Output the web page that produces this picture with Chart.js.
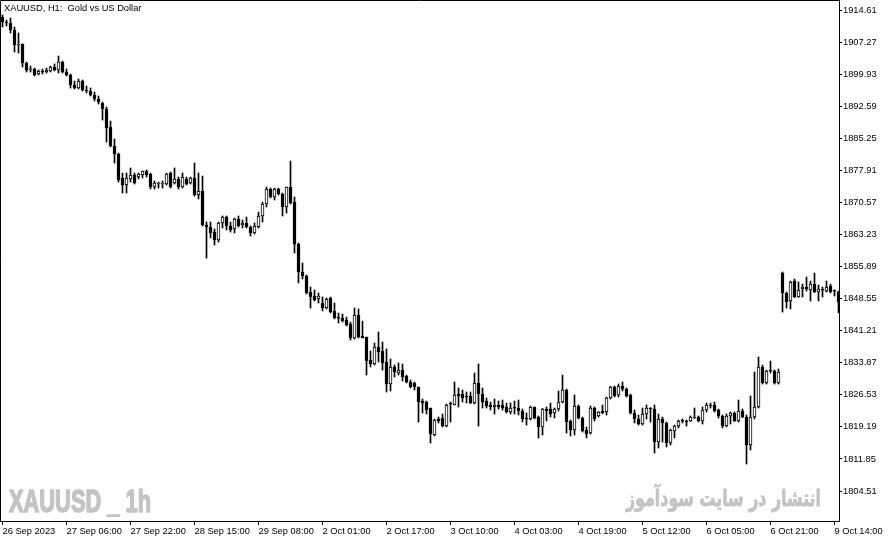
<!DOCTYPE html>
<html>
<head>
<meta charset="utf-8">
<script src="https://cdn.jsdelivr.net/npm/chart.js@4.4.1/dist/chart.umd.min.js"></script>
<style>
  html, body { margin: 0; padding: 0; background: #fff; }
  canvas { display: block; }
</style>
</head>
<body>
<canvas id="chart" width="892" height="543"></canvas>
<script>
// XAUUSD H1, 26 Sep 14:00 -> 9 Oct 14:00 (one value per hourly bar)
const opens = [
  1913.01,1911.86,1911.64,1910.03,1906.60,1906.83,1902.48,1900.88,1901.11,1899.96,
  1900.65,1900.42,1900.65,1901.56,1900.88,1902.71,1900.42,1899.73,1897.44,1896.76,
  1898.36,1896.30,1896.07,1895.16,1894.24,1893.32,1891.95,1887.83,1883.48,1881.65,
  1876.16,1874.55,1875.93,1876.84,1876.38,1876.84,1877.76,1877.07,1874.09,1874.78,
  1874.78,1874.78,1877.30,1875.01,1875.93,1874.09,1875.93,1875.01,1876.16,1872.26,
  1873.18,1865.40,1864.94,1863.80,1861.96,1865.85,1867.23,1865.17,1864.48,1866.77,
  1865.40,1865.85,1864.94,1863.57,1864.94,1867.46,1870.20,1873.64,1871.81,1873.64,
  1872.49,1869.52,1874.09,1870.66,1861.04,1854.64,1853.72,1850.06,1849.15,1848.46,
  1847.54,1846.40,1848.69,1845.71,1844.11,1844.11,1843.65,1842.74,1839.53,1844.80,
  1839.99,1839.76,1834.50,1833.58,1837.47,1836.56,1834.04,1829.00,1832.89,1831.52,
  1832.21,1830.83,1829.46,1829.23,1828.32,1825.11,1824.88,1823.51,1817.34,1821.00,
  1821.22,1819.39,1824.43,1824.20,1826.71,1826.71,1826.26,1826.26,1824.66,1829.23,
  1826.71,1825.11,1824.20,1823.74,1824.20,1824.20,1823.74,1822.60,1823.51,1823.51,
  1822.83,1821.00,1821.00,1823.74,1821.45,1819.17,1823.28,1823.28,1822.37,1823.28,
  1824.88,1827.63,1820.54,1818.48,1823.97,1821.22,1818.48,1817.79,1823.51,1821.68,
  1822.83,1822.60,1825.80,1828.32,1826.49,1828.54,1827.86,1826.49,1822.37,1821.00,
  1819.85,1822.14,1823.51,1823.28,1815.73,1821.00,1820.08,1815.50,1818.25,1819.39,
  1820.54,1820.54,1820.54,1821.22,1821.45,1820.54,1823.05,1824.20,1824.20,1823.05,
  1821.68,1819.39,1821.68,1822.37,1820.54,1822.83,1821.45,1815.05,1821.45,1823.74,
  1832.89,1829.23,1831.98,1831.98,1829.23,1854.41,1849.83,1848.00,1852.58,1848.92,
  1850.75,1851.21,1850.52,1851.89,1850.06,1850.52,1850.29,1851.44,1850.29,1850.06
];
const highs = [
  1913.47,1912.32,1912.78,1910.72,1909.35,1906.83,1902.71,1901.79,1901.33,1900.88,
  1901.11,1901.33,1901.79,1902.25,1904.08,1902.94,1901.11,1899.96,1898.36,1898.82,
  1898.59,1897.21,1896.76,1895.84,1894.93,1893.55,1892.41,1889.20,1885.08,1881.88,
  1877.30,1877.30,1878.45,1877.30,1877.30,1877.76,1877.99,1877.30,1875.47,1875.24,
  1875.47,1877.30,1877.53,1878.45,1876.38,1877.30,1876.38,1876.38,1879.59,1877.30,
  1876.61,1866.08,1866.08,1864.48,1866.08,1867.46,1867.46,1866.08,1867.00,1867.46,
  1866.54,1867.23,1865.17,1865.85,1868.37,1870.66,1874.09,1873.86,1873.86,1873.86,
  1872.72,1874.09,1880.05,1871.81,1861.27,1856.70,1853.95,1851.21,1850.52,1849.83,
  1848.92,1848.69,1848.92,1847.54,1845.25,1845.02,1844.34,1843.19,1846.40,1846.17,
  1843.42,1839.76,1836.56,1838.39,1840.90,1838.62,1837.02,1834.73,1833.35,1833.81,
  1833.58,1831.06,1829.92,1829.46,1828.32,1825.57,1825.11,1823.51,1821.00,1821.45,
  1822.14,1824.43,1824.88,1829.46,1828.09,1827.63,1827.17,1827.17,1831.52,1833.58,
  1828.09,1825.80,1824.88,1825.57,1825.11,1825.34,1824.66,1824.66,1825.11,1825.34,
  1823.28,1822.37,1823.97,1823.74,1821.68,1823.40,1823.74,1824.66,1823.51,1827.40,
  1831.06,1827.86,1820.77,1826.49,1824.20,1821.45,1819.17,1823.97,1823.74,1822.70,
  1824.20,1826.03,1828.45,1828.54,1829.00,1829.46,1828.09,1826.71,1823.05,1821.91,
  1823.51,1824.20,1823.60,1824.20,1822.14,1821.45,1820.31,1818.71,1819.62,1820.77,
  1821.00,1820.77,1821.68,1823.51,1821.68,1823.74,1824.66,1824.66,1824.88,1823.28,
  1821.91,1822.14,1822.60,1822.60,1825.34,1823.28,1821.91,1826.26,1831.75,1835.19,
  1833.35,1832.21,1834.27,1832.21,1832.44,1854.64,1850.06,1852.58,1853.04,1852.35,
  1851.89,1853.49,1852.58,1854.41,1851.66,1851.21,1852.58,1851.89,1850.52,1850.29
];
const lows = [
  1910.72,1910.95,1909.35,1905.00,1904.77,1901.56,1900.42,1900.42,1899.50,1899.73,
  1899.96,1900.19,1900.42,1900.65,1900.19,1900.19,1899.50,1896.76,1896.53,1896.53,
  1896.07,1895.61,1894.93,1893.78,1893.09,1889.43,1884.40,1883.25,1879.59,1875.24,
  1872.72,1872.72,1875.24,1874.78,1875.93,1876.16,1876.38,1873.64,1873.64,1873.86,
  1873.86,1874.55,1873.86,1874.78,1873.64,1873.86,1874.55,1874.78,1872.03,1871.35,
  1865.17,1857.84,1862.42,1860.82,1861.50,1864.71,1864.25,1863.80,1863.57,1864.94,
  1864.71,1864.71,1862.88,1863.34,1864.71,1866.08,1869.52,1871.58,1871.12,1872.26,
  1867.46,1868.14,1870.20,1858.99,1852.12,1853.04,1849.60,1846.40,1848.00,1847.54,
  1845.71,1846.17,1845.25,1843.88,1842.96,1843.19,1842.28,1839.08,1839.30,1839.53,
  1839.53,1831.06,1832.89,1833.35,1834.04,1832.21,1827.17,1827.40,1830.61,1831.06,
  1829.69,1829.23,1828.09,1827.63,1820.31,1822.37,1822.14,1815.50,1817.11,1820.08,
  1819.17,1819.17,1820.31,1824.20,1823.74,1824.88,1824.66,1824.50,1824.43,1819.39,
  1823.51,1823.51,1823.05,1822.14,1823.28,1823.05,1822.37,1822.14,1822.14,1821.91,
  1820.31,1819.62,1820.77,1821.00,1816.65,1817.34,1820.54,1821.45,1821.22,1822.83,
  1824.66,1817.79,1817.11,1817.34,1821.00,1818.02,1816.65,1817.56,1820.54,1821.45,
  1822.20,1821.91,1825.57,1826.03,1826.03,1827.40,1826.03,1822.14,1820.08,1819.62,
  1819.62,1821.00,1820.31,1813.21,1814.36,1815.73,1814.59,1815.05,1816.65,1818.94,
  1820.08,1819.39,1820.45,1821.10,1820.31,1819.85,1822.60,1823.51,1822.60,1821.22,
  1818.94,1819.17,1819.85,1820.40,1820.31,1821.30,1810.69,1813.90,1821.00,1823.51,
  1829.00,1829.00,1831.52,1829.00,1829.00,1845.48,1846.40,1846.17,1848.80,1848.85,
  1848.92,1850.29,1848.00,1849.95,1848.00,1848.92,1850.06,1849.83,1849.15,1845.25
];
const closes = [
  1911.86,1911.64,1910.03,1906.60,1906.83,1902.48,1900.88,1901.11,1899.73,1900.65,
  1900.42,1900.88,1901.56,1900.88,1902.71,1900.42,1899.73,1897.44,1896.76,1898.36,
  1896.30,1896.07,1895.16,1894.24,1893.55,1891.95,1887.60,1883.48,1881.65,1875.70,
  1874.55,1876.16,1876.84,1875.01,1877.07,1877.76,1876.84,1874.09,1875.01,1874.78,
  1875.01,1877.07,1874.09,1875.93,1874.09,1876.38,1874.78,1876.16,1872.26,1873.18,
  1865.40,1864.94,1863.57,1861.96,1865.85,1867.23,1865.17,1864.25,1866.77,1865.17,
  1865.85,1864.94,1863.57,1865.17,1867.46,1870.20,1873.64,1871.81,1873.64,1872.49,
  1869.52,1874.09,1870.43,1861.04,1854.64,1853.72,1849.83,1848.92,1848.23,1849.15,
  1846.40,1848.46,1845.48,1844.11,1844.05,1843.42,1842.51,1839.53,1844.80,1839.76,
  1839.53,1834.27,1833.58,1837.47,1836.33,1833.81,1829.00,1832.89,1831.75,1832.21,
  1830.61,1829.46,1828.32,1828.32,1824.88,1824.66,1823.05,1817.56,1820.77,1820.54,
  1819.39,1824.20,1824.38,1826.49,1826.26,1825.80,1826.03,1824.66,1829.23,1826.71,
  1824.88,1823.97,1823.74,1824.20,1823.74,1823.51,1822.60,1823.51,1823.45,1822.83,
  1821.00,1820.95,1823.74,1821.22,1819.17,1823.28,1822.83,1822.14,1823.28,1824.88,
  1827.63,1820.31,1818.48,1823.97,1821.22,1818.25,1817.56,1823.51,1821.00,1822.60,
  1822.37,1825.80,1828.32,1826.26,1828.54,1827.86,1826.26,1822.37,1821.00,1819.85,
  1822.14,1823.51,1823.28,1815.73,1821.00,1820.08,1815.50,1818.48,1819.39,1820.54,
  1820.50,1820.31,1821.45,1821.25,1820.54,1823.05,1824.20,1823.97,1822.83,1821.68,
  1819.39,1821.68,1822.37,1820.54,1822.83,1821.45,1815.05,1821.45,1823.74,1832.89,
  1829.23,1831.98,1831.92,1829.23,1831.75,1849.83,1847.77,1852.35,1848.92,1850.52,
  1851.21,1850.75,1851.89,1850.06,1850.75,1850.48,1851.21,1850.06,1850.25,1847.77
];

// time axis: a label every 16 bars
const timeTickBars = [0, 16, 32, 48, 64, 80, 96, 112, 128, 144, 160, 176, 192, 208];
const timeTickLabels = [
  '26 Sep 2023', '27 Sep 06:00', '27 Sep 22:00', '28 Sep 15:00', '29 Sep 08:00',
  '2 Oct 01:00', '2 Oct 17:00', '3 Oct 10:00', '4 Oct 03:00', '4 Oct 19:00',
  '5 Oct 12:00', '6 Oct 05:00', '6 Oct 21:00', '9 Oct 14:00'
];
const priceTicks = [
  1914.61, 1907.27, 1899.93, 1892.59, 1885.25, 1877.91, 1870.57, 1863.23,
  1855.89, 1848.55, 1841.21, 1833.87, 1826.53, 1819.19, 1811.85, 1804.51
];

const titleText = 'XAUUSD, H1:  Gold vs US Dollar';
const markLeft = 'XAUUSD _ 1h';
const markRight = 'انتشار در سایت سودآموز';

const axisFont = { family: '"Liberation Sans", Arial, sans-serif', size: 9.3 };

// wick = low..high, body = open..close
const wicks = opens.map((o, i) => ({ x: i, y: [lows[i], highs[i]] }));
const bodies = opens.map((o, i) => ({ x: i, y: [o, closes[i]] }));
const bodyFill = opens.map((o, i) => closes[i] >= o ? '#ffffff' : '#000000');

// draw text squeezed/stretched to a given width, with an optional thickening stroke
function fitText(ctx, text, font, x, y, w, align, thick) {
  ctx.font = font;
  const m = ctx.measureText(text).width;
  ctx.save();
  ctx.translate(x, y);
  ctx.scale(w / m, 1);
  ctx.textAlign = align;
  ctx.textBaseline = 'alphabetic';
  ctx.fillText(text, 0, 0);
  if (thick) {
    ctx.lineWidth = thick;
    ctx.lineJoin = 'round';
    ctx.strokeText(text, 0, 0);
  }
  ctx.restore();
}

const overlay = {
  id: 'overlay',
  beforeDatasetsDraw(chart) {
    const ctx = chart.ctx;
    ctx.save();
    ctx.fillStyle = '#c4c4c4';
    ctx.strokeStyle = '#c4c4c4';
    fitText(ctx, markLeft, 'bold 32px "Liberation Sans", sans-serif', 9, 512, 142, 'left', 1.6);
    fitText(ctx, markRight, 'bold 23px "DejaVu Sans", sans-serif', 821, 506, 195, 'right', 0.8);
    ctx.restore();
  },
  afterDraw(chart) {
    const ctx = chart.ctx;
    const a = chart.chartArea;
    ctx.save();
    ctx.strokeStyle = '#000';
    ctx.lineWidth = 1;
    ctx.beginPath();
    ctx.moveTo(0.5, a.bottom);
    ctx.lineTo(0.5, 0.5);
    ctx.lineTo(a.right, 0.5);
    ctx.stroke();
    ctx.fillStyle = '#000';
    ctx.font = '9.3px "Liberation Sans", Arial, sans-serif';
    ctx.textBaseline = 'middle';
    ctx.textAlign = 'left';
    ctx.fillText(titleText, 4, 8);
    ctx.restore();
  }
};

new Chart(document.getElementById('chart'), {
  type: 'bar',
  data: {
    datasets: [
      {
        data: wicks,
        backgroundColor: '#000',
        barThickness: 1,
        grouped: false,
        order: 2
      },
      {
        data: bodies,
        backgroundColor: bodyFill,
        borderColor: '#000',
        borderWidth: 1,
        borderSkipped: false,
        barThickness: 3,
        minBarLength: 1,
        grouped: false,
        order: 1
      }
    ]
  },
  options: {
    responsive: false,
    animation: false,
    layout: { padding: 0 },
    plugins: {
      legend: { display: false },
      tooltip: { enabled: false }
    },
    scales: {
      x: {
        type: 'linear',
        min: -0.625,
        max: 209.125,
        offset: false,
        grid: { offset: false, drawOnChartArea: false, drawTicks: true, tickLength: 4, color: '#000' },
        border: { display: true, color: '#000' },
        ticks: {
          autoSkip: false, maxRotation: 0, minRotation: 0, align: 'start',
          padding: 1, color: '#000', font: axisFont,
          callback: (v) => timeTickLabels[timeTickBars.indexOf(v)]
        },
        afterBuildTicks: (s) => { s.ticks = timeTickBars.map(v => ({ value: v })); },
        afterFit: (s) => { s.height = 22; s.paddingLeft = 0; s.paddingRight = 0; }
      },
      y: {
        position: 'right',
        min: 1797.65,
        max: 1916.90,
        grid: { drawOnChartArea: false, drawTicks: true, tickLength: 3, color: '#000' },
        border: { display: true, color: '#000' },
        ticks: {
          padding: 1, color: '#000', font: axisFont,
          callback: (v) => v.toFixed(2)
        },
        afterBuildTicks: (s) => { s.ticks = priceTicks.map(v => ({ value: v })); },
        afterFit: (s) => { s.width = 53; s.paddingTop = 0; s.paddingBottom = 0; }
      }
    }
  },
  plugins: [overlay]
});
</script>
</body>
</html>
